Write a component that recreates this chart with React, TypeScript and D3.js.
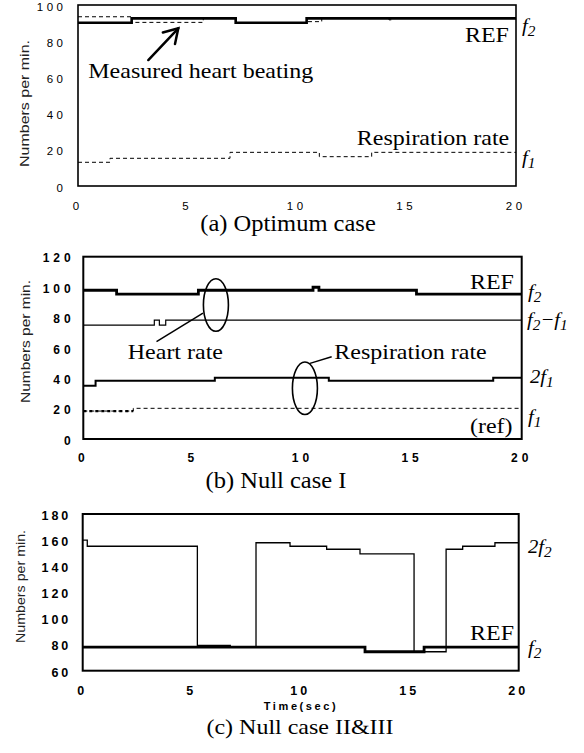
import React from "react";
import * as d3 from "d3";

const W = 584;
const H = 753;

// shared time axis
const timeTicks = [0, 5, 10, 15, 20];

// (a) Optimum case
const aHeartT = [0, 2.45, 7.2, 10.44, 20];
const aHeartV = [90.2, 92.6, 90.2, 92.6];
const aRefT = [0, 2.45, 5.72, 7.2, 10.44, 11.13, 14.2, 14.35, 20];
const aRefV = [93.5, 90.4, 92.6, 90.2, 90.8, 92.6, 91.8, 92.6];
const aRespT = [0, 1.46, 6.94, 11.02, 13.41, 20];
const aRespV = [13.1, 15.3, 18.6, 16.2, 18.6];
const aYTicks = [0, 20, 40, 60, 80, 100];

// (b) Null case I
const bRefT = [0, 1.52, 5.25, 10.48, 10.75, 15.2, 20];
const bRefV = [97.9, 95.3, 97.9, 99.9, 97.9, 95.3];
const bDiffT = [0, 3.24, 3.47, 3.76, 20];
const bDiffV = [75, 78.3, 75, 78.3];
const b2f1T = [0, 0.56, 6.0, 11.2, 18.7, 20];
const b2f1V = [35.1, 38.4, 40.4, 38.4, 40.4];
const bF1T = [0, 2.28, 20];
const bF1V = [18.4, 20.2];
const bYTicks = [0, 20, 40, 60, 80, 100, 120];

// (c) Null case II&III
const cRefT = [0, 12.95, 15.66, 20];
const cRefV = [78, 74.5, 78];
const c2f2T = [0, 0.21, 5.26, 6.77, 7.95, 9.51, 11.19, 12.72, 15.2, 16.67, 17.43, 18.91, 20];
const c2f2V = [160, 155.3, 79.3, 78, 158, 155.3, 153, 149.5, 74.5, 153, 155.3, 158];
const cYTicks = [60, 80, 100, 120, 140, 160, 180];

const SERIF = "'Liberation Serif', 'Times New Roman', serif";
const SANS = "'Liberation Sans', Arial, sans-serif";
const SX = 1.09; // the figure is a little stretched sideways

// step series -> points for curveStepAfter
function steps(T, V) {
  const pts = V.map((v, i) => [T[i], v]);
  pts.push([T[T.length - 1], V[V.length - 1]]);
  return pts;
}

function Serif({ x, y, size = 22, anchor = "start", children }) {
  return (
    <text
      transform={`translate(${x},${y}) scale(${SX},1)`}
      fontFamily={SERIF}
      fontSize={size}
      textAnchor={anchor}
      fill="#000"
    >
      {children}
    </text>
  );
}

// italic f-labels on the right, e.g. f2, f2-f1, 2f1
function FLabel({ x, y, parts }) {
  let sub = false;
  return (
    <text
      transform={`translate(${x},${y}) scale(${SX},1)`}
      fontFamily={SERIF}
      fontStyle="italic"
      fontSize={19}
      fill="#000"
    >
      {parts.map((p, i) => {
        const isSub = p.sub;
        const dy = isSub && !sub ? 4 : !isSub && sub ? -4 : 0;
        sub = isSub;
        return (
          <tspan key={i} dy={dy} fontSize={isSub ? 14 : 19}>
            {p.t}
          </tspan>
        );
      })}
    </text>
  );
}

function Panel({ box, yDomain, yTicks, tick, yTitle, frame, children }) {
  const x = d3.scaleLinear().domain([0, 20]).range([box.left, box.right]);
  const y = d3.scaleLinear().domain(yDomain).range([box.bottom, box.top]);
  const line = d3
    .line()
    .x((d) => x(d[0]))
    .y((d) => y(d[1]))
    .curve(d3.curveStepAfter);
  return (
    <g>
      {yTicks.map((v) => (
        <text
          key={"y" + v}
          x={tick.yEnd + tick.ls}
          y={y(v) + 1.5}
          dy="0.35em"
          textAnchor="end"
          fontFamily={SANS}
          fontSize={tick.size}
          fontWeight={tick.weight}
          letterSpacing={tick.ls}
          fill="#000"
        >
          {v}
        </text>
      ))}
      {timeTicks.map((t) => (
        <text
          key={"x" + t}
          x={x(t) - 2 + tick.ls / 2}
          y={box.bottom + tick.xGap}
          dy="0.35em"
          textAnchor="middle"
          fontFamily={SANS}
          fontSize={tick.size}
          fontWeight={tick.weight}
          letterSpacing={tick.ls}
          fill="#000"
        >
          {t}
        </text>
      ))}
      <text
        transform={`translate(${yTitle.x},${yTitle.cy}) rotate(-90)`}
        textAnchor="middle"
        fontFamily={SANS}
        fontSize={yTitle.size}
        textLength={yTitle.len}
        lengthAdjust="spacingAndGlyphs"
        fill="#222"
      >
        Numbers per min.
      </text>
      {children(x, y, line)}
      <rect
        x={box.left}
        y={box.top}
        width={box.right - box.left}
        height={box.bottom - box.top}
        fill="none"
        stroke="#000"
        strokeWidth={frame}
      />
    </g>
  );
}

function Arrow({ x1, y1, x2, y2 }) {
  const a = Math.atan2(y2 - y1, x2 - x1);
  const len = 16;
  const spread = 0.55;
  const h1 = [x2 - len * Math.cos(a - spread), y2 - len * Math.sin(a - spread)];
  const h2 = [x2 - len * Math.cos(a + spread), y2 - len * Math.sin(a + spread)];
  return (
    <g stroke="#000" strokeWidth={2.5} fill="none" strokeLinecap="round">
      <line x1={x1} y1={y1} x2={x2} y2={y2} />
      <polyline points={`${h1[0]},${h1[1]} ${x2},${y2} ${h2[0]},${h2[1]}`} />
    </g>
  );
}

export default function App() {
  return (
    <svg
      width={W}
      height={H}
      viewBox={`0 0 ${W} ${H}`}
      style={{ position: "absolute", left: 0, top: 0, background: "#fff" }}
    >
      <rect width={W} height={H} fill="#fff" />

      {/* (a) Optimum case */}
      <Panel
        box={{ left: 78, right: 516, top: 5, bottom: 186 }}
        yDomain={[0, 100]}
        yTicks={aYTicks}
        tick={{ size: 11.5, weight: "normal", ls: 3.5, yEnd: 63, xGap: 19.5 }}
        yTitle={{ x: 29, cy: 103.5, len: 127, size: 12.5 }}
        frame={1.6}
      >
        {(x, y, line) => (
          <g>
            <path d={line(steps(aRespT, aRespV))} fill="none" stroke="#000" strokeWidth={1} strokeDasharray="4 3" />
            <path d={line(steps(aHeartT, aHeartV))} fill="none" stroke="#000" strokeWidth={2.6} />
            <path d={line(steps(aRefT, aRefV))} fill="none" stroke="#000" strokeWidth={1} strokeDasharray="4 3" />
            <Arrow x1={x(3.21)} y1={y(69.6)} x2={x(4.58)} y2={y(87.1)} />
            <Serif x={x(0.47)} y={y(59.7)}>Measured heart beating</Serif>
            <Serif x={x(17.67)} y={y(79.6)}>REF</Serif>
            <Serif x={x(12.73)} y={y(22.7)}>Respiration rate</Serif>
            <FLabel x={x(20) + 6} y={y(85.1)} parts={[{ t: "f" }, { t: "2", sub: true }]} />
            <FLabel x={x(20) + 6} y={y(12.2)} parts={[{ t: "f" }, { t: "1", sub: true }]} />
          </g>
        )}
      </Panel>
      <Serif x={288} y={230.7} size={22.5} anchor="middle">(a) Optimum case</Serif>

      {/* (b) Null case I */}
      <Panel
        box={{ left: 83.3, right: 521.7, top: 256.7, bottom: 439 }}
        yDomain={[0, 120]}
        yTicks={bYTicks}
        tick={{ size: 12, weight: "bold", ls: 4, yEnd: 70.7, xGap: 19 }}
        yTitle={{ x: 30, cy: 341.5, len: 123, size: 12 }}
        frame={2}
      >
        {(x, y, line) => (
          <g>
            <path d={line(steps(bF1T, bF1V))} fill="none" stroke="#000" strokeWidth={1} strokeDasharray="4 3" />
            <path d={line(steps(bF1T.slice(0, 2), bF1V.slice(0, 1)))} fill="none" stroke="#000" strokeWidth={2.2} strokeDasharray="3 3" />
            <path d={line(steps(b2f1T, b2f1V))} fill="none" stroke="#000" strokeWidth={2} />
            <path d={line(steps(bDiffT, bDiffV))} fill="none" stroke="#000" strokeWidth={1.2} />
            <path d={line(steps(bRefT, bRefV))} fill="none" stroke="#000" strokeWidth={2.8} />
            <ellipse cx={x(6.05)} cy={y(88.2)} rx={12.5} ry={26.3} fill="none" stroke="#000" strokeWidth={1.6} />
            <ellipse cx={x(10.11)} cy={y(33.4)} rx={12.5} ry={26.3} fill="none" stroke="#000" strokeWidth={1.6} />
            <line x1={x(3.34)} y1={y(64.1)} x2={x(5.46)} y2={y(82.9)} stroke="#000" strokeWidth={1.5} />
            <line x1={x(10.34)} y1={y(49.8)} x2={x(11.33)} y2={y(54.2)} stroke="#000" strokeWidth={1.5} />
            <Serif x={x(2.03)} y={y(52.5)}>Heart rate</Serif>
            <Serif x={x(11.45)} y={y(52.5)}>Respiration rate</Serif>
            <Serif x={x(17.64)} y={y(98.7)}>REF</Serif>
            <Serif x={x(17.64)} y={y(3.75)}>(ref)</Serif>
            <FLabel x={528} y={y(92.8)} parts={[{ t: "f" }, { t: "2", sub: true }]} />
            <FLabel
              x={527}
              y={y(74.4)}
              parts={[{ t: "f" }, { t: "2", sub: true }, { t: "\u2212f" }, { t: "1", sub: true }]}
            />
            <FLabel x={530} y={y(36.9)} parts={[{ t: "2f" }, { t: "1", sub: true }]} />
            <FLabel x={528} y={y(10.5)} parts={[{ t: "f" }, { t: "1", sub: true }]} />
          </g>
        )}
      </Panel>
      <Serif x={276} y={487.7} size={22.5} anchor="middle">(b) Null case I</Serif>

      {/* (c) Null case II&III */}
      <Panel
        box={{ left: 82.7, right: 518.7, top: 514, bottom: 670.7 }}
        yDomain={[60, 180]}
        yTicks={cYTicks}
        tick={{ size: 12.5, weight: "bold", ls: 3, yEnd: 68.3, xGap: 19.5 }}
        yTitle={{ x: 25, cy: 586.5, len: 113, size: 12 }}
        frame={2}
      >
        {(x, y, line) => (
          <g>
            <path d={line(steps(cRefT, cRefV))} fill="none" stroke="#000" strokeWidth={2.8} />
            <path d={line(steps(c2f2T, c2f2V))} fill="none" stroke="#000" strokeWidth={1.3} />
            <Serif x={x(17.77)} y={y(83.5)}>REF</Serif>
            <FLabel x={528} y={y(150)} parts={[{ t: "2f" }, { t: "2", sub: true }]} />
            <FLabel x={528} y={y(72.8)} parts={[{ t: "f" }, { t: "2", sub: true }]} />
          </g>
        )}
      </Panel>
      <text
        x={301}
        y={710}
        textAnchor="middle"
        fontFamily={SANS}
        fontSize={11}
        fontWeight="bold"
        letterSpacing={2.6}
        fill="#000"
      >
        Time(sec)
      </text>
      <Serif x={300} y={733.5} size={22} anchor="middle">(c) Null case II&amp;III</Serif>
    </svg>
  );
}
